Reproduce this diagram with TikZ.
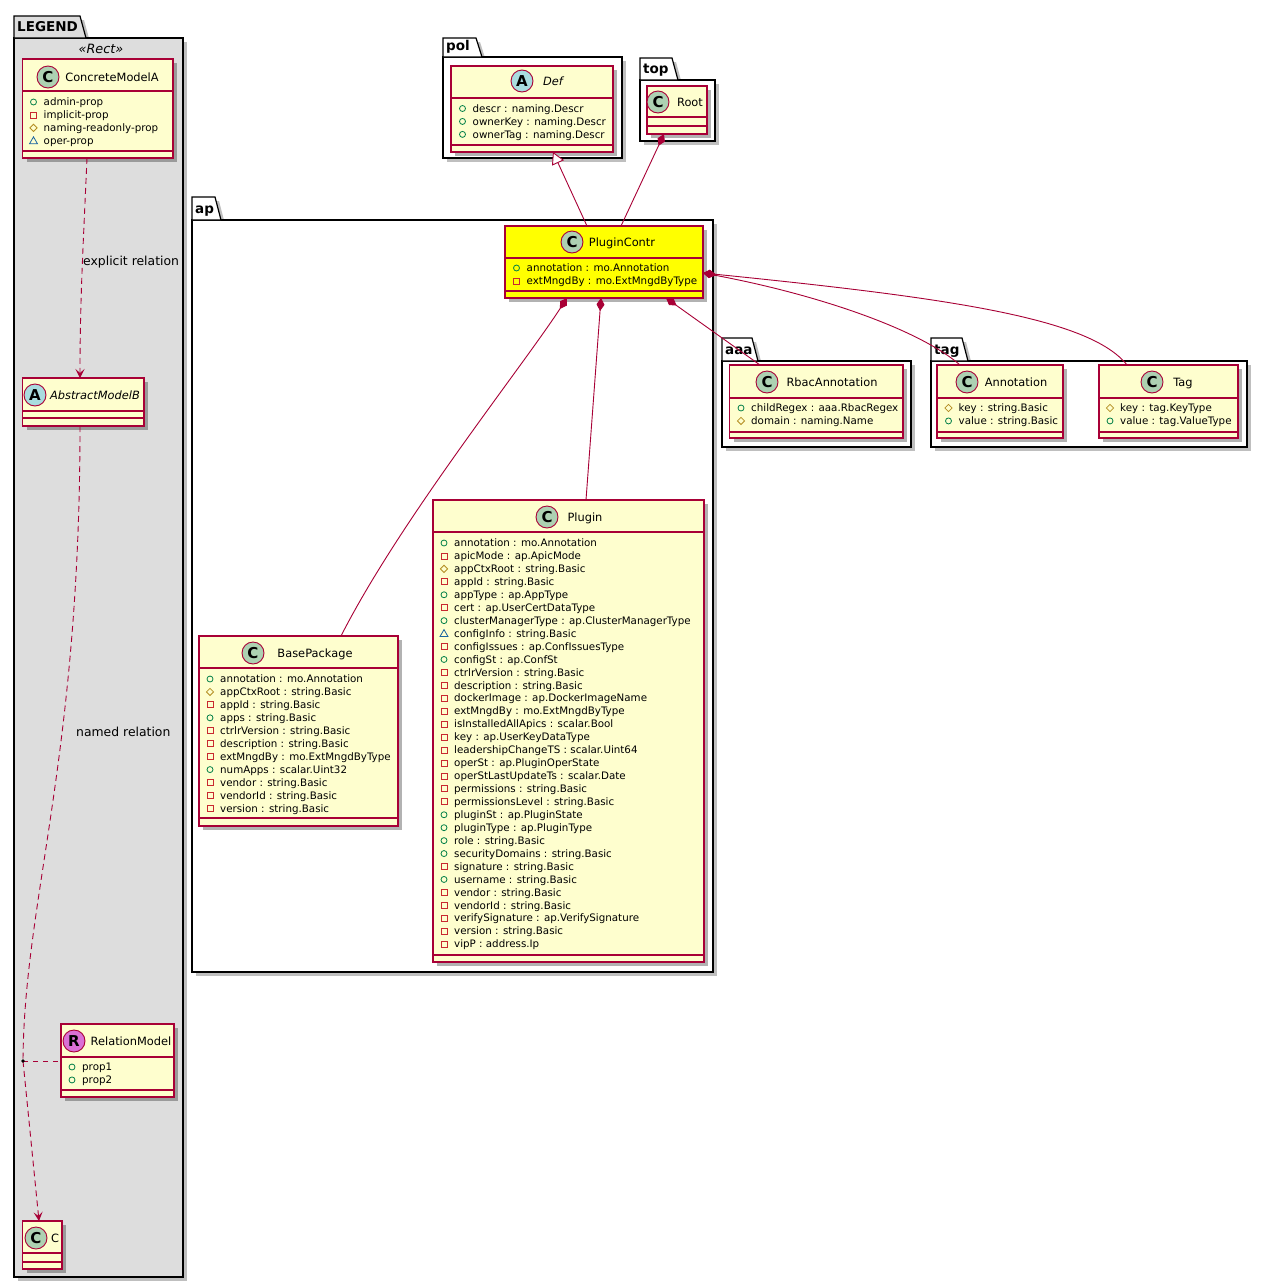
\documentclass[tikz,border=0pt]{standalone}
\usepackage{fontspec}
\setmainfont{DejaVu Sans}
\usetikzlibrary{arrows.meta,shadows}
\definecolor{brd}{HTML}{A80036}
\definecolor{clsfill}{HTML}{FEFECE}
\definecolor{legfill}{HTML}{DDDDDD}
\definecolor{ccirc}{HTML}{ADD1B2}
\definecolor{acirc}{HTML}{A9DCDF}
\definecolor{rcirc}{HTML}{DA70D6}
\definecolor{pubcol}{HTML}{038048}
\definecolor{privcol}{HTML}{C82930}
\definecolor{protcol}{HTML}{B38D22}
\definecolor{pkgcol}{HTML}{1963A0}
\definecolor{yel}{HTML}{FFFF00}
\tikzset{
 clsbox/.style={draw=brd, line width=1.1pt, rectangle, inner sep=0pt, outer sep=0pt,
   drop shadow={shadow xshift=4pt, shadow yshift=-4pt, opacity=0.3, fill=black}},
 clsline/.style={draw=brd, line width=1.1pt},
 hcirc/.style={circle, draw=brd, line width=0.9pt, minimum size=22pt, inner sep=0pt, font=\fontsize{15}{15}\selectfont\bfseries},
 cname/.style={anchor=base, inner sep=0pt, font=\fontsize{11.4}{13}\selectfont},
 member/.style={anchor=base west, inner sep=0pt, font=\fontsize{10.3}{12}\selectfont},
 pkglabel/.style={anchor=base west, inner sep=0pt, font=\fontsize{13.5}{15}\selectfont\bfseries},
 pkgline/.style={draw=black, line width=1.2pt},
 conn/.style={draw=brd, line width=0.9pt},
 dashedconn/.style={conn, dash pattern=on 6pt off 4pt},
 lbl/.style={inner sep=0pt, font=\fontsize{12.4}{14}\selectfont},
 pubc/.style={draw=pubcol, line width=0.8pt},
 privc/.style={draw=privcol, line width=0.8pt},
 protc/.style={draw=protcol, line width=0.8pt},
 pkgc/.style={draw=pkgcol, line width=0.8pt},
 comp/.style={{Diamond[length=13pt,width=8pt]}-},
 vtip/.style={-{Stealth[length=9pt,width=9pt,inset=4pt]}}
}
\newcommand{\visp}[2]{\draw[pubc] (#1,#2) circle (3pt);}
\newcommand{\visv}[2]{\draw[privc] (#1,#2) ++(-3pt,-3pt) rectangle ++(6pt,6pt);}
\newcommand{\visr}[2]{\draw[protc] (#1,#2) ++(-3.6pt,0pt) -- ++(3.6pt,3.6pt) -- ++(3.6pt,-3.6pt) -- ++(-3.6pt,-3.6pt) -- cycle;}
\newcommand{\visk}[2]{\draw[pkgc] (#1,#2) ++(-4pt,-3pt) -- ++(8pt,0pt) -- ++(-4pt,7pt) -- cycle;}
\newcommand{\members}[4]{%
 \foreach \mv/\mt [count=\mi from 0] in {#4} {
   \pgfmathsetmacro\myy{#3+\mi*12.94}
   \csname vis\mv\endcsname{#2}{\myy}
   \node[member] (#1m\mi) at (#2+10,\myy+3.7) {\mt};
 }}
\newcommand{\cls}[8]{%
 \pgfmathsetmacro\clsW{#4-#2}\pgfmathsetmacro\clsH{#5-#3}%
 \pgfmathsetmacro\clsX{(#2+#4)/2}\pgfmathsetmacro\clsY{(#3+#5)/2}%
 \node[clsbox, fill=#8, minimum width=\clsW pt, minimum height=\clsH pt] (#1) at (\clsX,\clsY) {};
 \draw[clsline] (#2,#6) -- (#4,#6);
 \draw[clsline] (#2,#7) -- (#4,#7);}
\newcommand{\hc}[5]{\node[hcirc, fill=#4] (#1) at (#2,#3) {#5};}
\newcommand{\clsname}[4]{\node[cname] (#1) at (#2,#3+4.2) {#4};}
\newcommand{\pkg}[9]{%
 \fill[black,opacity=0.25] (#2+4,#5+4) rectangle (#6+4,#7+4);
 \fill[black,opacity=0.25] (#2+4,#5+4) -- (#2+4,#3+4) -- (#4+4,#3+4) -- (#4+10,#5+4) -- cycle;
 \filldraw[pkgline, fill=#8] (#2,#5) rectangle (#6,#7);
 \filldraw[pkgline, fill=#8] (#2,#5) -- (#2,#3) -- (#4,#3) -- (#4+6,#5) -- cycle;
 \node[pkglabel] (#1) at (#2+3,#5-6.5) {#9};}
\begin{document}
\begin{tikzpicture}[x=1pt,y=-1pt]
\useasboundingbox (0,0) rectangle (1266,1288);
\fill[white] (0,0) rectangle (1266,1288);

% packages
\pkg{pLeg}{14}{16}{80}{38}{183}{1277}{legfill}{LEGEND}
\pkg{pPol}{443}{38}{476}{57}{622}{158}{white}{pol}
\pkg{pTop}{640}{58}{672}{80}{715}{141}{white}{top}
\pkg{pAp}{192}{197}{215}{220}{713}{972}{white}{ap}
\pkg{pAaa}{722}{338}{752}{361}{911}{447}{white}{aaa}
\pkg{pTag}{931}{338}{962}{361}{1247}{447}{white}{tag}
\node[inner sep=0pt, font=\fontsize{12.8}{14}\selectfont\itshape] (stRect) at (101,49) {«Rect»};

% legend classes
\cls{cma}{22.7}{59}{173}{158}{91}{151}{clsfill}
\hc{cmaC}{48}{77}{ccirc}{C}
\clsname{cmaN}{112}{77}{ConcreteModelA}
\members{cma}{33.5}{102}{p/admin-prop, v/implicit-prop, r/naming-readonly-prop, k/oper-prop}

\cls{amb}{22.7}{378}{144}{426}{411}{418}{clsfill}
\hc{ambC}{35}{395}{acirc}{A}
\clsname{ambN}{95}{395}{\itshape AbstractModelB}

\cls{rel}{61}{1024}{174}{1097}{1057}{1090}{clsfill}
\hc{relC}{74}{1041}{rcirc}{R}
\clsname{relN}{131}{1041}{RelationModel}
\members{rel}{72}{1067}{p/prop1, p/prop2}

\cls{cc}{22.7}{1221}{62}{1269}{1253}{1262}{clsfill}
\hc{ccC}{36}{1238}{ccirc}{C}
\clsname{ccN}{55}{1238}{C}

% pol / top
\cls{def}{451}{66}{613}{152}{98}{145}{clsfill}
\hc{defC}{522}{81}{acirc}{A}
\clsname{defN}{553}{81}{\itshape Def}
\members{def}{462.5}{108.5}{p/descr : naming.Descr, p/ownerKey : naming.Descr, p/ownerTag : naming.Descr}

\cls{root}{647}{86}{707}{134}{117}{126}{clsfill}
\hc{rootC}{658}{102}{ccirc}{C}
\clsname{rootN}{690}{102}{Root}

% ap
\cls{pc}{505}{226}{703}{298}{258}{291}{yel}
\hc{pcC}{572}{242}{ccirc}{C}
\clsname{pcN}{622}{242}{PluginContr}
\members{pc}{516.5}{268}{p/annotation : mo.Annotation, v/extMngdBy : mo.ExtMngdByType}

\cls{bp}{199}{636}{398}{826}{668}{818}{clsfill}
\hc{bpC}{253}{653}{ccirc}{C}
\clsname{bpN}{315}{653}{BasePackage}
\members{bp}{210}{679}{p/annotation : mo.Annotation, r/appCtxRoot : string.Basic, v/appId : string.Basic, p/apps : string.Basic, v/ctrlrVersion : string.Basic, v/description : string.Basic, v/extMngdBy : mo.ExtMngdByType, p/numApps : scalar.Uint32, v/vendor : string.Basic, v/vendorId : string.Basic, v/version : string.Basic}

\cls{plg}{433}{500}{704}{962}{532}{955}{clsfill}
\hc{plgC}{547}{517}{ccirc}{C}
\clsname{plgN}{585}{517}{Plugin}
\members{plg}{444}{543}{p/annotation : mo.Annotation, v/apicMode : ap.ApicMode, r/appCtxRoot : string.Basic, v/appId : string.Basic, p/appType : ap.AppType, v/cert : ap.UserCertDataType, p/clusterManagerType : ap.ClusterManagerType, k/configInfo : string.Basic, v/configIssues : ap.ConfIssuesType, p/configSt : ap.ConfSt, v/ctrlrVersion : string.Basic, v/description : string.Basic, v/dockerImage : ap.DockerImageName, v/extMngdBy : mo.ExtMngdByType, v/isInstalledAllApics : scalar.Bool, v/key : ap.UserKeyDataType, v/leadershipChangeTS : scalar.Uint64, v/operSt : ap.PluginOperState, v/operStLastUpdateTs : scalar.Date, v/permissions : string.Basic, v/permissionsLevel : string.Basic, p/pluginSt : ap.PluginState, p/pluginType : ap.PluginType, p/role : string.Basic, p/securityDomains : string.Basic, v/signature : string.Basic, p/username : string.Basic, v/vendor : string.Basic, v/vendorId : string.Basic, v/verifySignature : ap.VerifySignature, v/version : string.Basic, v/vipP : address.Ip}

% aaa / tag
\cls{rbac}{729.5}{365}{903}{438}{398}{432}{clsfill}
\hc{rbacC}{767}{382}{ccirc}{C}
\clsname{rbacN}{832}{382}{RbacAnnotation}
\members{rbac}{741}{408}{p/childRegex : aaa.RbacRegex, r/domain : naming.Name}

\cls{ann}{937}{365}{1063}{438}{398}{432}{clsfill}
\hc{annC}{967}{382}{ccirc}{C}
\clsname{annN}{1016}{382}{Annotation}
\members{ann}{948.5}{408}{r/key : string.Basic, p/value : string.Basic}

\cls{tag}{1099}{365}{1238}{438}{398}{432}{clsfill}
\hc{tagC}{1152}{382}{ccirc}{C}
\clsname{tagN}{1183}{382}{Tag}
\members{tag}{1110}{408}{r/key : tag.KeyType, p/value : tag.ValueType}

% legend connectors
\coordinate (adot) at (23,1061);
\draw[dashedconn, vtip] ([xshift=-10.85pt]cma.south) .. controls (83,250) and (80,300) .. ([xshift=-3.35pt]amb.north);
\node[lbl, anchor=west] (lblExp) at (83,262) {explicit relation};
\draw[dashedconn] ([xshift=-3.35pt]amb.south) .. controls (80,760) and (24,900) .. (adot);
\draw[dashedconn, vtip] (adot) -- ([xshift=-3.35pt]cc.north);
\draw[dashedconn, dash pattern=on 5pt off 5pt] (adot) -- (adot -| rel.west);
\fill (adot) circle (1.8pt);
\node[lbl, anchor=west] (lblNamed) at (76,732) {named relation};

% model connectors
\draw[conn, -{Triangle[length=12pt,width=13pt,fill=white]}] ([xshift=-17pt]pc.north) -- ([xshift=21pt]def.south);
\draw[conn, comp] ([xshift=-13pt]root.south) -- ([xshift=17pt]pc.north);
\draw[conn, comp] ([xshift=-37pt]pc.south) .. controls (520,370) and (400,520) .. ([xshift=42.5pt]bp.north);
\draw[conn, comp] ([xshift=-3pt]pc.south) -- ([xshift=17.5pt]plg.north);
\draw[conn, comp] ([xshift=62pt]pc.south) -- ([xshift=-56.25pt]rbac.north);
\draw[conn, comp] ([yshift=-11pt]pc.east) .. controls (820,295) and (920,330) .. ([xshift=-40pt]ann.north);
\draw[conn, comp] ([yshift=-11pt]pc.east) .. controls (950,298) and (1090,318) .. ([xshift=-41.5pt]tag.north);
\end{tikzpicture}
\end{document}
